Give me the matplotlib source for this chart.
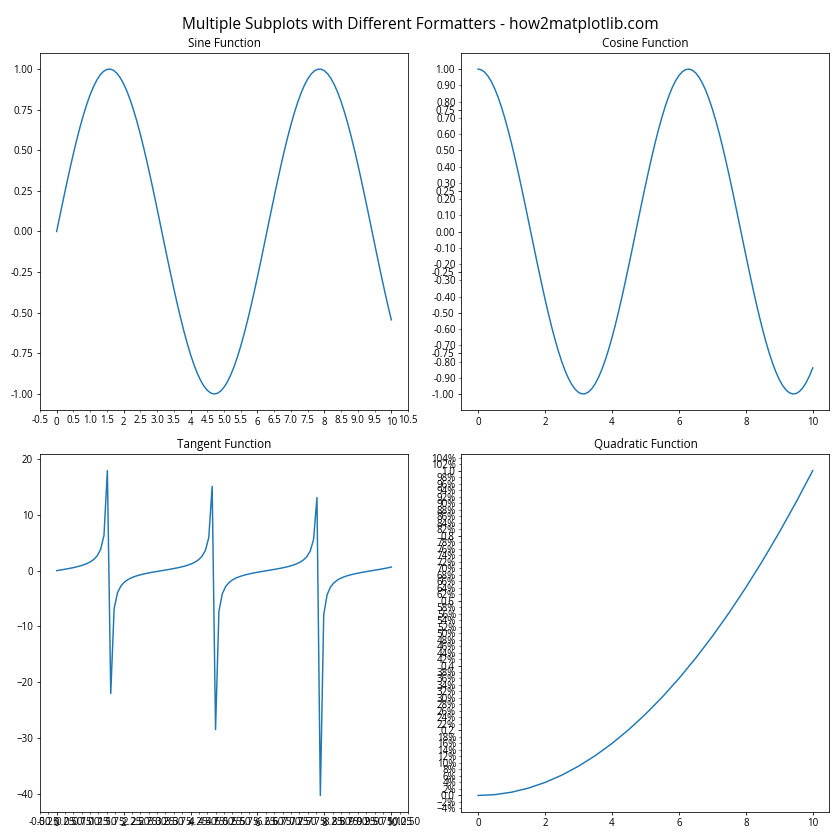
# 2x2 grid of function plots, each with its own tick formatters
# saves out.png (840x840)

# Imports
import matplotlib
matplotlib.use("Agg")
import matplotlib.pyplot as plt
from matplotlib.ticker import MultipleLocator, FormatStrFormatter, PercentFormatter

plt.rcParams['font.family'] = ['Open Sans', 'DejaVu Sans']

# sine / cosine, sampled every 0.1
trig_x = [0.0, 0.1, 0.2, 0.3, 0.4, 0.5, 0.6, 0.7, 0.8, 0.9,
          1.0, 1.1, 1.2, 1.3, 1.4, 1.5, 1.6, 1.7, 1.8, 1.9,
          2.0, 2.1, 2.2, 2.3, 2.4, 2.5, 2.6, 2.7, 2.8, 2.9,
          3.0, 3.1, 3.2, 3.3, 3.4, 3.5, 3.6, 3.7, 3.8, 3.9,
          4.0, 4.1, 4.2, 4.3, 4.4, 4.5, 4.6, 4.7, 4.8, 4.9,
          5.0, 5.1, 5.2, 5.3, 5.4, 5.5, 5.6, 5.7, 5.8, 5.9,
          6.0, 6.1, 6.2, 6.3, 6.4, 6.5, 6.6, 6.7, 6.8, 6.9,
          7.0, 7.1, 7.2, 7.3, 7.4, 7.5, 7.6, 7.7, 7.8, 7.9,
          8.0, 8.1, 8.2, 8.3, 8.4, 8.5, 8.6, 8.7, 8.8, 8.9,
          9.0, 9.1, 9.2, 9.3, 9.4, 9.5, 9.6, 9.7, 9.8, 9.9, 10.0]
sine_y = [0.0, 0.0998, 0.1987, 0.2955, 0.3894, 0.4794, 0.5646, 0.6442, 0.7174, 0.7833,
          0.8415, 0.8912, 0.9320, 0.9636, 0.9854, 0.9975, 0.9996, 0.9917, 0.9738, 0.9463,
          0.9093, 0.8632, 0.8085, 0.7457, 0.6755, 0.5985, 0.5155, 0.4274, 0.3350, 0.2392,
          0.1411, 0.0416, -0.0584, -0.1577, -0.2555, -0.3508, -0.4425, -0.5298, -0.6119, -0.6878,
          -0.7568, -0.8183, -0.8716, -0.9162, -0.9516, -0.9775, -0.9937, -0.9999, -0.9962, -0.9825,
          -0.9589, -0.9258, -0.8835, -0.8323, -0.7728, -0.7055, -0.6313, -0.5507, -0.4646, -0.3739,
          -0.2794, -0.1822, -0.0831, 0.0168, 0.1165, 0.2151, 0.3115, 0.4048, 0.4941, 0.5784,
          0.6570, 0.7290, 0.7937, 0.8504, 0.8987, 0.9380, 0.9679, 0.9882, 0.9985, 0.9989,
          0.9894, 0.9699, 0.9407, 0.9022, 0.8546, 0.7985, 0.7344, 0.6630, 0.5849, 0.5010,
          0.4121, 0.3190, 0.2229, 0.1245, 0.0248, -0.0752, -0.1743, -0.2718, -0.3665, -0.4575, -0.5440]
cosine_y = [1.0, 0.9950, 0.9801, 0.9553, 0.9211, 0.8776, 0.8253, 0.7648, 0.6967, 0.6216,
            0.5403, 0.4536, 0.3624, 0.2675, 0.1700, 0.0707, -0.0292, -0.1288, -0.2272, -0.3233,
            -0.4161, -0.5048, -0.5885, -0.6663, -0.7374, -0.8011, -0.8569, -0.9041, -0.9422, -0.9710,
            -0.9900, -0.9991, -0.9983, -0.9875, -0.9668, -0.9365, -0.8968, -0.8481, -0.7910, -0.7259,
            -0.6536, -0.5748, -0.4903, -0.4008, -0.3073, -0.2108, -0.1122, -0.0124, 0.0875, 0.1865,
            0.2837, 0.3780, 0.4685, 0.5544, 0.6347, 0.7087, 0.7756, 0.8347, 0.8855, 0.9275,
            0.9602, 0.9833, 0.9965, 0.9999, 0.9932, 0.9766, 0.9502, 0.9144, 0.8694, 0.8157,
            0.7539, 0.6845, 0.6084, 0.5261, 0.4385, 0.3466, 0.2513, 0.1534, 0.0540, -0.0460,
            -0.1455, -0.2435, -0.3392, -0.4314, -0.5193, -0.6020, -0.6787, -0.7486, -0.8111, -0.8654,
            -0.9111, -0.9478, -0.9748, -0.9922, -0.9997, -0.9972, -0.9847, -0.9624, -0.9304, -0.8892, -0.8391]

# tangent, 100 samples (the spikes depend on where the samples land)
tan_x = [0.0, 0.1010, 0.2020, 0.3030, 0.4040, 0.5051, 0.6061, 0.7071, 0.8081, 0.9091,
         1.0101, 1.1111, 1.2121, 1.3131, 1.4141, 1.5152, 1.6162, 1.7172, 1.8182, 1.9192,
         2.0202, 2.1212, 2.2222, 2.3232, 2.4242, 2.5253, 2.6263, 2.7273, 2.8283, 2.9293,
         3.0303, 3.1313, 3.2323, 3.3333, 3.4343, 3.5354, 3.6364, 3.7374, 3.8384, 3.9394,
         4.0404, 4.1414, 4.2424, 4.3434, 4.4444, 4.5455, 4.6465, 4.7475, 4.8485, 4.9495,
         5.0505, 5.1515, 5.2525, 5.3535, 5.4545, 5.5556, 5.6566, 5.7576, 5.8586, 5.9596,
         6.0606, 6.1616, 6.2626, 6.3636, 6.4646, 6.5657, 6.6667, 6.7677, 6.8687, 6.9697,
         7.0707, 7.1717, 7.2727, 7.3737, 7.4747, 7.5758, 7.6768, 7.7778, 7.8788, 7.9798,
         8.0808, 8.1818, 8.2828, 8.3838, 8.4848, 8.5859, 8.6869, 8.7879, 8.8889, 8.9899,
         9.0909, 9.1919, 9.2929, 9.3939, 9.4949, 9.5960, 9.6970, 9.7980, 9.8990, 10.0]
tan_y = [0.0, 0.1014, 0.2048, 0.3129, 0.4282, 0.5526, 0.6946, 0.8549, 1.0433, 1.284,
         1.595, 2.020, 2.669, 3.794, 6.331, 17.95, -22.03, -6.783, -3.96, -2.754,
         -2.073, -1.630, -1.312, -1.069, -0.8735, -0.7098, -0.5668, -0.4407, -0.3240, -0.2155,
         -0.1118, -0.0103, 0.0910, 0.1941, 0.3013, 0.4156, 0.5398, 0.6804, 0.8398, 1.026,
         1.258, 1.557, 1.969, 2.586, 3.64, 5.934, 15.14, -28.50, -7.302, -4.14,
         -2.84, -2.128, -1.668, -1.340, -1.092, -0.8900, -0.7243, -0.5801, -0.4526, -0.3355,
         -0.2263, -0.1222, -0.0206, 0.0806, 0.1834, 0.2904, 0.4036, 0.5262, 0.6649, 0.8215,
         1.004, 1.230, 1.520, 1.918, 2.508, 3.50, 5.583, 13.10, -40.32, -7.906,
         -4.33, -2.94, -2.186, -1.707, -1.369, -1.114, -0.9078, -0.7389, -0.5936, -0.4647,
         -0.3468, -0.2372, -0.1327, -0.0309, 0.0702, 0.1729, 0.2792, 0.3917, 0.5137, 0.6484]

# quadratic (x^2 / 100), sampled every 0.5
quad_x = [0.0, 0.5, 1.0, 1.5, 2.0, 2.5, 3.0, 3.5, 4.0, 4.5, 5.0,
          5.5, 6.0, 6.5, 7.0, 7.5, 8.0, 8.5, 9.0, 9.5, 10.0]
quad_y = [0.0, 0.0025, 0.01, 0.0225, 0.04, 0.0625, 0.09, 0.1225, 0.16, 0.2025, 0.25,
          0.3025, 0.36, 0.4225, 0.49, 0.5625, 0.64, 0.7225, 0.81, 0.9025, 1.0]


def main():
  fig, axs = plt.subplots(2, 2, figsize=(12, 12), dpi=70)
  fig.suptitle("Multiple Subplots with Different Formatters - how2matplotlib.com", fontsize=16)

  # sine: y as %.2f, labelled minor ticks every 0.5 on x
  ax = axs[0, 0]
  ax.plot(trig_x, sine_y)
  ax.set_title("Sine Function")
  ax.yaxis.set_major_formatter(FormatStrFormatter('%.2f'))
  ax.xaxis.set_minor_locator(MultipleLocator(0.5))
  ax.xaxis.set_minor_formatter(FormatStrFormatter('%.1f'))

  # cosine: y as %.2f, labelled minor ticks every 0.1
  ax = axs[0, 1]
  ax.plot(trig_x, cosine_y)
  ax.set_title("Cosine Function")
  ax.yaxis.set_major_formatter(FormatStrFormatter('%.2f'))
  ax.yaxis.set_minor_locator(MultipleLocator(0.1))
  ax.yaxis.set_minor_formatter(FormatStrFormatter('%.2f'))

  # tangent: labelled minor ticks every 0.25 on x
  ax = axs[1, 0]
  ax.plot(tan_x, tan_y)
  ax.set_title("Tangent Function")
  ax.xaxis.set_minor_locator(MultipleLocator(0.25))
  ax.xaxis.set_minor_formatter(FormatStrFormatter('%.2f'))

  # quadratic: minor ticks every 2% as percent
  ax = axs[1, 1]
  ax.plot(quad_x, quad_y)
  ax.set_title("Quadratic Function")
  ax.yaxis.set_minor_locator(MultipleLocator(0.02))
  ax.yaxis.set_minor_formatter(PercentFormatter(xmax=1.0, decimals=0))

  plt.tight_layout()
  plt.savefig("out.png")


if __name__ == "__main__":
  main()
